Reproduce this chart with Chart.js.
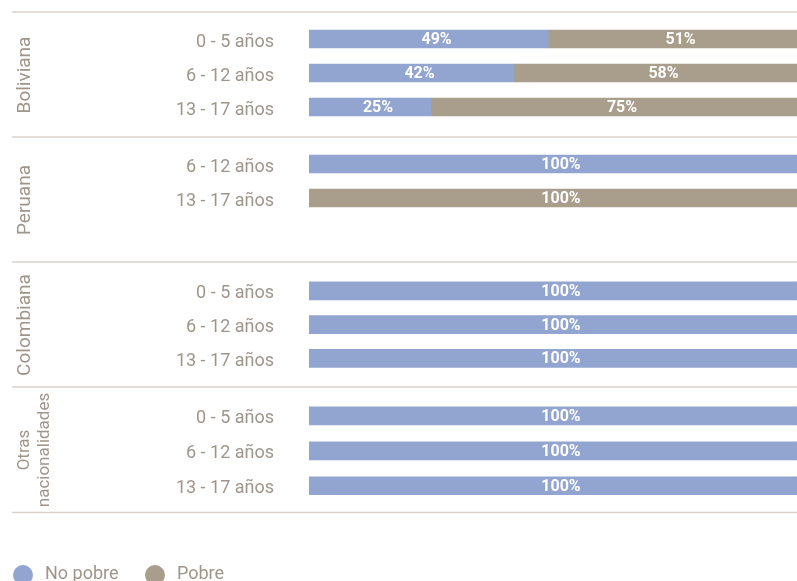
<!DOCTYPE html>
<html>
<head>
<meta charset="utf-8">
<script src="https://cdn.jsdelivr.net/npm/chart.js@4"></script>
<style>
  html, body { margin:0; padding:0; background:#ffffff; width:797px; height:581px; overflow:hidden; }
  #wrap { position:relative; width:797px; height:581px; }
  .grp { position:absolute; left:0; width:797px; }
  .grp canvas { display:block; }
  #legend { position:absolute; left:0; top:0; width:797px; height:581px; pointer-events:none; }
  .lg-dot { position:absolute; width:20px; height:20px; border-radius:50%; }
  .lg-txt { position:absolute; font-family:Roboto, sans-serif; font-weight:400; font-size:18px; line-height:20px; color:#a0958a; white-space:nowrap; }
</style>
</head>
<body>
<div id="wrap"></div>
<script>
// ---- data ----
const groups = ['Boliviana', 'Peruana', 'Colombiana', 'Otras nacionalidades'];
const ageLabels = [
  ['0 - 5 años', '6 - 12 años', '13 - 17 años'],
  ['6 - 12 años', '13 - 17 años', ''],
  ['0 - 5 años', '6 - 12 años', '13 - 17 años'],
  ['0 - 5 años', '6 - 12 años', '13 - 17 años']
];
const seriesNames = ['No pobre', 'Pobre'];
const noPobre = [
  [49, 42, 25],
  [100, 0, null],
  [100, 100, 100],
  [100, 100, 100]
];
const pobre = [
  [51, 58, 75],
  [0, 100, null],
  [0, 0, 0],
  [0, 0, 0]
];

// ---- style ----
const colors = ['#91a5d0', '#a99d8c'];
const textColor = '#a0958a';
const lineColor = '#d9d2c8';
const tops = [11, 136, 261, 386];
const heights = [125, 125, 125, 128];
const padTop = [11, 11, 13, 12.5];
const padBottom = [12, 12, 10, 10.5];
const groupFont = [19, 19, 19, 17];

const barLabels = {
  id: 'barLabels',
  afterDatasetsDraw(chart) {
    const ctx = chart.ctx;
    ctx.save();
    ctx.font = 'bold 16px Roboto';
    ctx.fillStyle = '#ffffff';
    ctx.textAlign = 'center';
    ctx.textBaseline = 'middle';
    chart.data.datasets.forEach((ds, i) => {
      const meta = chart.getDatasetMeta(i);
      meta.data.forEach((el, j) => {
        const v = ds.data[j];
        if (!v) return;
        const p = el.getProps(['x', 'base', 'y'], true);
        ctx.fillText(v + '%', (p.x + p.base) / 2 + 8, p.y + 1);
      });
    });
    ctx.restore();
  }
};

const groupDeco = {
  id: 'groupDeco',
  afterDraw(chart, args, opts) {
    const ctx = chart.ctx;
    const W = chart.width;
    ctx.save();
    ctx.strokeStyle = lineColor;
    ctx.lineWidth = 1.5;
    ctx.beginPath();
    ctx.moveTo(12, 1); ctx.lineTo(W, 1);
    if (opts.bottomLine) { ctx.moveTo(12, 126.5); ctx.lineTo(W, 126.5); }
    ctx.stroke();
    const lines = opts.name.split(' ');
    const n = lines.length;
    const cx = n > 1 ? 35 : 25;
    ctx.translate(cx, 64);
    ctx.rotate(-Math.PI / 2);
    ctx.font = '400 ' + opts.size + 'px Roboto';
    ctx.fillStyle = textColor;
    ctx.textAlign = 'center';
    ctx.textBaseline = 'middle';
    lines.forEach((t, i) => ctx.fillText(t, 0, (i - (n - 1) / 2) * 20));
    ctx.restore();
  }
};

const wrap = document.getElementById('wrap');
groups.forEach((g, gi) => {
  const div = document.createElement('div');
  div.className = 'grp';
  div.style.top = tops[gi] + 'px';
  div.style.height = heights[gi] + 'px';
  const cv = document.createElement('canvas');
  cv.width = 797; cv.height = heights[gi];
  cv.style.width = '797px'; cv.style.height = heights[gi] + 'px';
  div.appendChild(cv);
  wrap.appendChild(div);

  new Chart(cv, {
    type: 'bar',
    data: {
      labels: ageLabels[gi],
      datasets: [
        { label: seriesNames[0], data: noPobre[gi], backgroundColor: colors[0], borderWidth: 0, barThickness: 18 },
        { label: seriesNames[1], data: pobre[gi], backgroundColor: colors[1], borderWidth: 0, barThickness: 18 }
      ]
    },
    options: {
      indexAxis: 'y',
      responsive: false,
      animation: false,
      devicePixelRatio: 1,
      layout: { padding: { top: padTop[gi], bottom: padBottom[gi], left: 0, right: 0 } },
      scales: {
        x: { stacked: true, min: 0, max: 100, display: false },
        y: {
          stacked: true,
          grid: { display: false, drawTicks: true, tickLength: 35 },
          border: { display: false },
          ticks: { color: textColor, font: { family: 'Roboto', size: 18, weight: '400' }, padding: 0, labelOffset: 3, autoSkip: false },
          afterFit(s) { s.width = 309; }
        }
      },
      plugins: {
        legend: { display: false },
        tooltip: { enabled: false },
        groupDeco: { name: g, size: groupFont[gi], bottomLine: gi === groups.length - 1 }
      }
    },
    plugins: [barLabels, groupDeco]
  });
});

// legend
const legend = document.createElement('div');
legend.id = 'legend';
const dotX = [13, 145];
const txtX = [45, 177];
seriesNames.forEach((s, i) => {
  const d = document.createElement('div');
  d.className = 'lg-dot';
  d.style.left = dotX[i] + 'px';
  d.style.top = '565px';
  d.style.background = colors[i];
  legend.appendChild(d);
  const t = document.createElement('div');
  t.className = 'lg-txt';
  t.style.left = txtX[i] + 'px';
  t.style.top = '563px';
  t.textContent = s;
  legend.appendChild(t);
});
wrap.appendChild(legend);
</script>
</body>
</html>
